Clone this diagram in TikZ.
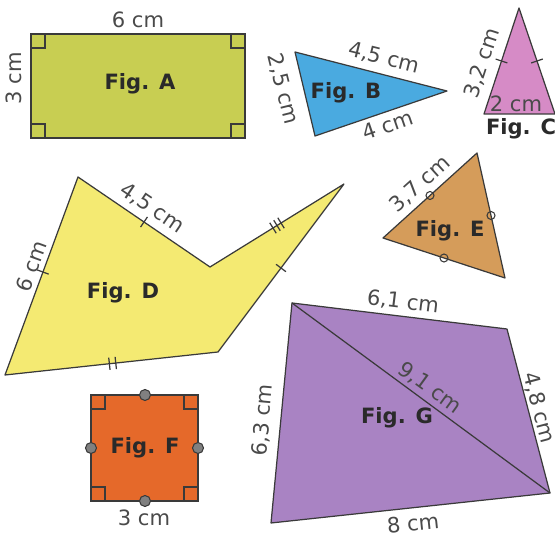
\documentclass[tikz,border=0pt]{standalone}
\usepackage{fontspec}
\setmainfont{DejaVu Sans}
\usetikzlibrary{calc}
\definecolor{edge}{HTML}{3A3A3A}
\definecolor{lab}{HTML}{4A4A4A}
\definecolor{figtxt}{HTML}{2A2A2A}
\definecolor{figA}{HTML}{C8CE52}
\definecolor{figB}{HTML}{4AAAE0}
\definecolor{figC}{HTML}{D68BC6}
\definecolor{figD}{HTML}{F4EA72}
\definecolor{figE}{HTML}{D59C5A}
\definecolor{figF}{HTML}{E5692A}
\definecolor{figG}{HTML}{A983C3}
% tick mark across an edge: from, to, position
\newcommand{\edgetick}[3]{\draw[tk] ($(#1)!#3!(#2)!3.5pt!90:(#2)$) -- ($(#1)!#3!(#2)!3.5pt!-90:(#2)$);}

\begin{document}
\begin{tikzpicture}[x=0.02cm, y=-0.02cm,
  shp/.style={draw=edge, line width=0.7pt, line join=round},
  lbl/.style={text=lab, font=\fontsize{12}{14}\selectfont, inner sep=0pt},
  fig/.style={text=figtxt, font=\fontsize{12}{14}\selectfont\bfseries, inner sep=0pt},
  ra/.style={draw=edge, line width=0.7pt},
  tk/.style={draw=edge, line width=0.7pt},
  ring/.style={draw=edge, line width=0.6pt}]
  \useasboundingbox (0,0) rectangle (555,536);

  % Fig. A
  \coordinate (a1) at (31,34);
  \coordinate (a3) at (245,138);
  \draw[shp, fill=figA] (a1) rectangle (a3);
  \foreach \x/\y in {31/34, 231/34, 31/124, 231/124}
    \draw[ra] (\x,\y) rectangle +(14,14);
  \node[lbl] (lAtop) at (138,20) {6 cm};
  \node[lbl, rotate=90] (lAleft) at (14,78) {3 cm};
  \node[fig] (figa) at (140,84) {Fig. A};

  % Fig. B
  \coordinate (b1) at (295,52);
  \coordinate (b2) at (447,91);
  \coordinate (b3) at (315,136);
  \draw[shp, fill=figB] (b1) -- (b2) -- (b3) -- cycle;
  \node[lbl, rotate=-14] (lBtop) at (384,58) {4,5 cm};
  \node[lbl, rotate=-76] (lBleft) at (283,89) {2,5 cm};
  \node[lbl, rotate=19] (lBbot) at (388,125) {4 cm};
  \node[fig] (figb) at (346,93) {Fig. B};

  % Fig. C
  \coordinate (c1) at (519,8);
  \coordinate (c2) at (555,114);
  \coordinate (c3) at (484,114);
  \draw[shp, fill=figC] (c1) -- (c2) -- (c3) -- cycle;
  \edgetick{c3}{c1}{0.5}
  \edgetick{c2}{c1}{0.5}
  \node[lbl, rotate=72] (lCleft) at (482,63) {3,2 cm};
  \node[lbl] (lCbase) at (516,104) {2 cm};
  \node[fig] (figc) at (521,129) {Fig. C};

  % Fig. D
  \coordinate (d1) at (78,177);
  \coordinate (d2) at (210,267);
  \coordinate (d3) at (344,184);
  \coordinate (d4) at (218,352);
  \coordinate (d5) at (5,375);
  \draw[shp, fill=figD] (d1) -- (d2) -- (d3) -- (d4) -- (d5) -- cycle;
  \edgetick{d5}{d1}{0.52}
  \edgetick{d1}{d2}{0.5}
  \foreach \p in {0.47,0.5,0.53} {\edgetick{d2}{d3}{\p}}
  \edgetick{d3}{d4}{0.5}
  \foreach \p in {0.49,0.52} {\edgetick{d5}{d4}{\p}}
  \node[lbl, rotate=70] (lDleft) at (31,266) {6 cm};
  \node[lbl, rotate=-34] (lDtop) at (152,208) {4,5 cm};
  \node[fig] (figd) at (123,293) {Fig. D};

  % Fig. E
  \coordinate (e1) at (477,153);
  \coordinate (e2) at (505,278);
  \coordinate (e3) at (383,238);
  \draw[shp, fill=figE] (e1) -- (e2) -- (e3) -- cycle;
  \foreach \u/\v in {e1/e2, e2/e3, e3/e1}
    \draw[ring] ($(\u)!0.5!(\v)$) circle (4);
  \node[lbl, rotate=42] (lEleft) at (420,184) {3,7 cm};
  \node[fig] (fige) at (450,231) {Fig. E};

  % Fig. F
  \coordinate (f1) at (91,395);
  \coordinate (f3) at (198,501);
  \draw[shp, fill=figF] (f1) rectangle (f3);
  \foreach \x/\y in {91/395, 184/395, 91/487, 184/487}
    \draw[ra] (\x,\y) rectangle +(14,14);
  \foreach \x/\y in {145/395, 91/448, 198/448, 145/501}
    \draw[ring, fill=gray] (\x,\y) circle (5.5);
  \node[lbl] (lFbot) at (144,518) {3 cm};
  \node[fig] (figf) at (145,448) {Fig. F};

  % Fig. G
  \coordinate (g1) at (292,303);
  \coordinate (g2) at (507,329);
  \coordinate (g3) at (550,493);
  \coordinate (g4) at (271,523);
  \draw[shp, fill=figG] (g1) -- (g2) -- (g3) -- (g4) -- cycle;
  \draw[shp] (g1) -- (g3);
  \node[lbl, rotate=-7] (lGtop) at (403,302) {6,1 cm};
  \node[lbl, rotate=-36] (lGdiag) at (430,388) {9,1 cm};
  \node[lbl, rotate=-75] (lGright) at (539,408) {4,8 cm};
  \node[lbl, rotate=85] (lGleft) at (263,420) {6,3 cm};
  \node[lbl, rotate=6] (lGbot) at (413,523) {8 cm};
  \node[fig] (figg) at (397,418) {Fig. G};
\end{tikzpicture}
\end{document}
